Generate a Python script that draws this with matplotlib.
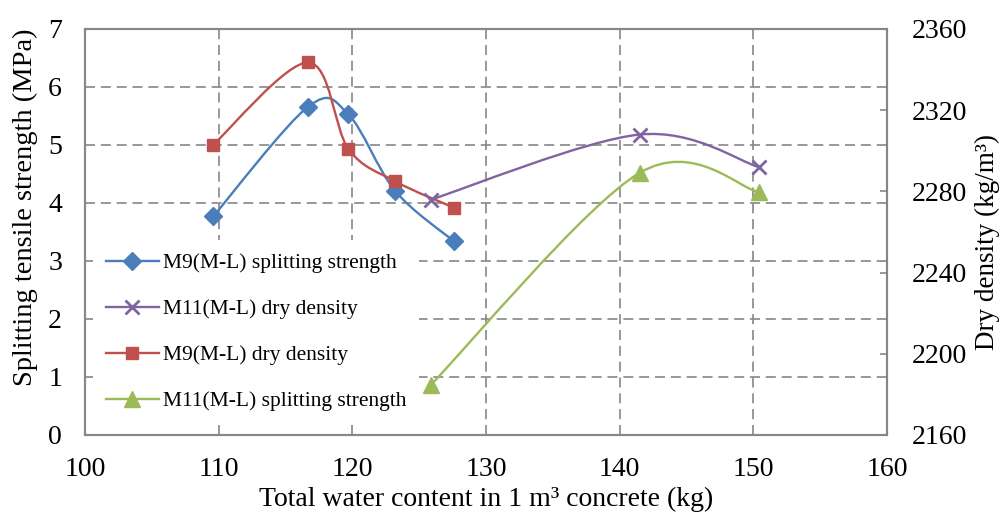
import matplotlib.pyplot as plt
import numpy as np
from matplotlib.path import Path
from matplotlib.patches import PathPatch
from matplotlib.lines import Line2D

plt.rcParams['font.family'] = ['Liberation Serif', 'DejaVu Serif']

# water content (kg per m3) for each mix
m9_water = [109.6, 116.7, 119.7, 123.2, 127.6]
m11_water = [125.9, 141.5, 150.4]

# splitting tensile strength (MPa), left axis
m9_strength = [3.77, 5.66, 5.53, 4.21, 3.34]
m11_strength = [0.87, 4.52, 4.19]

# dry density (kg/m3), right axis
m9_density = [2303, 2343.5, 2301, 2285, 2272]
m11_density = [2276, 2308, 2292]

left_ticks = [0, 1, 2, 3, 4, 5, 6, 7]
right_ticks = [2160, 2200, 2240, 2280, 2320, 2360]
x_ticks = [100, 110, 120, 130, 140, 150, 160]

BLUE = '#4A7EBB'
RED = '#C0504D'
PURPLE = '#8064A2'
GREEN = '#9BBB59'
GRID = '#868686'
SPINE = '#868686'


def smooth_path(xs, ys):
    # Excel style smoothed line: cubic bezier with catmull-rom tangents
    pts = np.column_stack([xs, ys]).astype(float)
    n = len(pts)
    verts = [pts[0]]
    codes = [Path.MOVETO]
    for i in range(n - 1):
        p0 = pts[i - 1] if i > 0 else pts[i]
        p1 = pts[i]
        p2 = pts[i + 1]
        p3 = pts[i + 2] if i + 2 < n else pts[i + 1]
        c1 = p1 + (p2 - p0) / 6.0
        c2 = p2 - (p3 - p1) / 6.0
        verts += [c1, c2, p2]
        codes += [Path.CURVE4] * 3
    return Path(verts, codes)


def draw_series(ax, xs, ys, color, marker, ms, mew=1.0):
    patch = PathPatch(smooth_path(xs, ys), fill=False, edgecolor=color, lw=1.7,
                      capstyle='round', joinstyle='round', zorder=3)
    ax.add_patch(patch)
    ax.plot(xs, ys, ls='none', marker=marker, ms=ms, color=color,
            mec=color, mew=mew, zorder=4)


fig = plt.figure(figsize=(10.03, 5.12), dpi=100)
ax = fig.add_axes([0.0847, 0.1504, 0.7996, 0.793])
ax2 = ax.twinx()

ax.set_xlim(100, 160)
ax.set_ylim(0, 7)
ax2.set_ylim(2160, 2360)
ax.set_xticks(x_ticks)
ax.set_yticks(left_ticks)
ax2.set_yticks(right_ticks)

ax.grid(True, color=GRID, ls=(0, (6, 3.5)), lw=1.2)
ax.set_axisbelow(True)

draw_series(ax, m9_water, m9_strength, BLUE, 'D', 9)
draw_series(ax, m11_water, m11_strength, GREEN, '^', 12)
draw_series(ax2, m9_water, m9_density, RED, 's', 9)
draw_series(ax2, m11_water, m11_density, PURPLE, 'x', 10, mew=2.0)

for a in (ax, ax2):
    for s in a.spines.values():
        s.set_color(SPINE)
        s.set_linewidth(1.5)

ax.tick_params(axis='both', length=0, labelsize=20, colors='black')
ax.tick_params(axis='x', pad=16)
ax.tick_params(axis='y', pad=16.5)
ax2.tick_params(axis='y', direction='in', length=5, width=1.2, color=SPINE,
                labelsize=20, labelcolor='black', pad=18)

ax.set_xlabel('Total water content in 1 m³ concrete (kg)', fontsize=20, labelpad=3)
ax.set_ylabel('Splitting tensile strength (MPa)', fontsize=20.5)
ax2.set_ylabel('Dry density (kg/m³)', fontsize=19.5)
ax.yaxis.set_label_coords(-0.058, 0.561)
ax2.yaxis.set_label_coords(1.109, 0.475)

handles = [
    Line2D([], [], color=BLUE, marker='D', ms=9, lw=1.7),
    Line2D([], [], color=PURPLE, marker='x', ms=10, mew=2.0, lw=1.7),
    Line2D([], [], color=RED, marker='s', ms=9, lw=1.7),
    Line2D([], [], color=GREEN, marker='^', ms=12, lw=1.7),
]
labels = ['M9(M-L) splitting strength', 'M11(M-L) dry density',
          'M9(M-L) dry density', 'M11(M-L) splitting strength']
leg = ax2.legend(handles, labels, loc='center left', bbox_to_anchor=(0.01, 0.253),
                 borderaxespad=0, borderpad=0.6, fontsize=15.5, labelspacing=1.2,
                 handlelength=2.45, handletextpad=0.2, frameon=True, fancybox=False)
leg.get_frame().set_facecolor('white')
leg.get_frame().set_edgecolor('none')
leg.get_frame().set_alpha(1)

fig.savefig('out.png', dpi=100)
